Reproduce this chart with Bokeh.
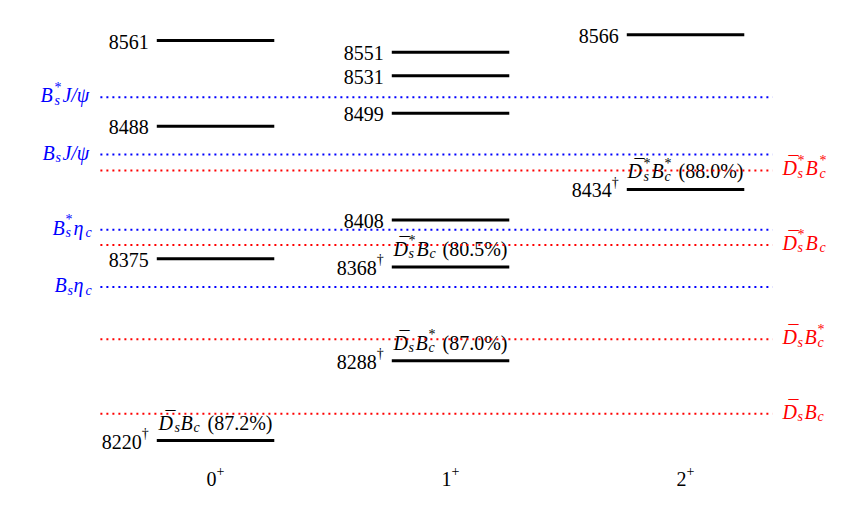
from bokeh.plotting import figure
from bokeh.models import ColumnDataSource, Range1d
from bokeh.embed import file_html
from bokeh.resources import INLINE
from bokeh.core.properties import value

# ---------------- data ----------------
jp_pos = [0, 1, 2]
jp_labels = ["0", "1", "2"]
jp_parity = "+"

masses_0p = [8561, 8488, 8375, 8220]
masses_1p = [8551, 8531, 8499, 8408, 8368, 8288]
masses_2p = [8566, 8434]
dagger_states = [8220, 8368, 8288, 8434]

DB = "D\u0304"
ann_col = [0, 1, 1, 2]
ann_mass = [8220, 8368, 8288, 8434]
ann_channel = [
    [(DB, "s", ""), ("B", "c", "")],
    [(DB, "s", "*"), ("B", "c", "")],
    [(DB, "s", ""), ("B", "c", "*")],
    [(DB, "s", "*"), ("B", "c", "*")],
]
ann_prob = ["87.2%", "80.5%", "87.0%", "88.0%"]

thr_blue_mass = [8512.7, 8463.8, 8399.7, 8350.8]
thr_blue_name = [
    [("B", "s", "*"), ("J/\u03c8", "", "")],
    [("B", "s", ""), ("J/\u03c8", "", "")],
    [("B", "s", "*"), ("\u03b7", "c", "")],
    [("B", "s", ""), ("\u03b7", "c", "")],
]
thr_red_mass = [8450.2, 8386.7, 8306.3, 8242.8]
thr_red_name = [
    [(DB, "s", "*"), ("B", "c", "*")],
    [(DB, "s", "*"), ("B", "c", "")],
    [(DB, "s", ""), ("B", "c", "*")],
    [(DB, "s", ""), ("B", "c", "")],
]

# ---------------- layout helpers ----------------
FONT = "Liberation Serif"
MAIN = 20
SCRIPT = 14
HALF = 0.25          # half-length of a level line (x units)
THR_X0, THR_X1 = -0.49, 2.37
PX_PER_MEV = 1.173

IT = {"B": 0.611, "D": 0.722, "J": 0.444, "/": 0.278, "\u03c8": 0.70,
      "\u03b7": 0.52, "s": 0.389, "c": 0.444, "\u0304": 0.0}
RM = {" ": 0.25, "(": 0.333, ")": 0.333, ".": 0.25, "%": 0.833,
      "*": 0.5, "\u2020": 0.5, "+": 0.564}


def tw(s, style, size):
    tab = IT if style == "i" else RM
    return sum(tab.get(ch, 0.5) for ch in s) * size


groups = {}


def put(x, y, t, xo, yo, size, style, color):
    key = (size, "italic" if style == "i" else "normal")
    g = groups.setdefault(key, {k: [] for k in ["x", "y", "text", "xo", "yo", "color"]})
    g["x"].append(x); g["y"].append(y); g["text"].append(t)
    g["xo"].append(round(xo)); g["yo"].append(round(yo)); g["color"].append(color)


def rich(x, y, parts, dx, dy, align, color):
    """parts: list of (base, sub, sup, style, lead_space)"""
    widths = []
    for base, sub, sup, st, lead in parts:
        wb = tw(base, st, MAIN)
        ws = max(tw(sub, "i", SCRIPT), tw(sup, "r", SCRIPT))
        gap = 2.0 if st == "i" else 0.0
        widths.append((lead, wb, ws, gap))
    total = sum(a + b + c + d for a, b, c, d in widths)
    if align == "right":
        cur = dx - total
    elif align == "center":
        cur = dx - total / 2
    else:
        cur = dx
    for (base, sub, sup, st, _), (lead, wb, ws, gap) in zip(parts, widths):
        cur += lead
        if "\u0304" in base:
            put(x, y, base.replace("\u0304", ""), cur, dy, MAIN, st, color)
            put(x, y, "\u00af", cur + 6.5, dy - 4, MAIN, "r", color)
        else:
            put(x, y, base, cur, dy, MAIN, st, color)
        cur += wb + (1.0 if st == "i" else 0.0)
        if sub:
            put(x, y, sub, cur, dy + 5, SCRIPT, "i", color)
        if sup:
            put(x, y, sup, cur, dy - 8, SCRIPT, "r", color)
        cur += ws + gap - (1.0 if st == "i" else 0.0)


def mparts(name):
    return [(b, s, u, "i", 0.0) for b, s, u in name]


# ---------------- figure ----------------
Y_TOP = 8588.3
p = figure(width=854, height=504, output_backend="svg", toolbar_location=None,
           x_range=Range1d(-0.881, -0.881 + 846 / 235),
           y_range=Range1d(Y_TOP - 496 / PX_PER_MEV, Y_TOP),
           x_axis_location=None, y_axis_location=None,
           min_border_left=8, min_border_right=0,
           min_border_top=8, min_border_bottom=0)
p.outline_line_color = None
p.grid.visible = False
p.background_fill_color = "white"

cols = [0] * len(masses_0p) + [1] * len(masses_1p) + [2] * len(masses_2p)
levels = masses_0p + masses_1p + masses_2p

# mass labels
for c, m in zip(cols, levels):
    sup = "\u2020" if m in dagger_states else ""
    rich(c - HALF, m, [(str(m), "", sup, "r", 0.0)], -8, 1, "right", "black")

# decay annotations
for c, m, ch, pr in zip(ann_col, ann_mass, ann_channel, ann_prob):
    rich(c, m, mparts(ch) + [("(" + pr + ")", "", "", "r", 6.0)], 0, -18,
         "center", "black")

# threshold names
for m, nm in zip(thr_blue_mass, thr_blue_name):
    rich(THR_X0, m, mparts(nm), -8, -2, "right", "#0000ff")
for m, nm in zip(thr_red_mass, thr_red_name):
    rich(THR_X1, m, mparts(nm), 10, -2, "left", "#ff0000")

# J^P category labels under the columns
lowest = min(levels)
for c, lab in zip(jp_pos, jp_labels):
    rich(c, lowest, [(lab, "", jp_parity, "r", 0.0)], 0, 38, "center", "black")

# texts are drawn first
for (size, style), g in groups.items():
    p.text(x="x", y="y", text="text", x_offset="xo", y_offset="yo",
           text_color="color", source=ColumnDataSource(g),
           text_font=value(FONT), text_font_size=f"{size}px",
           text_font_style=style, text_baseline="alphabetic",
           text_align="left")

# threshold lines
p.segment(x0=[THR_X0] * len(thr_blue_mass), x1=[THR_X1] * len(thr_blue_mass),
          y0=thr_blue_mass, y1=thr_blue_mass, line_color="#0000ff",
          line_width=2, line_dash="2 4")
p.segment(x0=[THR_X0] * len(thr_red_mass), x1=[THR_X1] * len(thr_red_mass),
          y0=thr_red_mass, y1=thr_red_mass, line_color="#ff0000",
          line_width=2, line_dash="2 4")

# level lines
p.segment(x0=[c - HALF for c in cols], x1=[c + HALF for c in cols],
          y0=levels, y1=levels, line_color="black", line_width=3)

open("out.html", "w").write(file_html(p, INLINE))
